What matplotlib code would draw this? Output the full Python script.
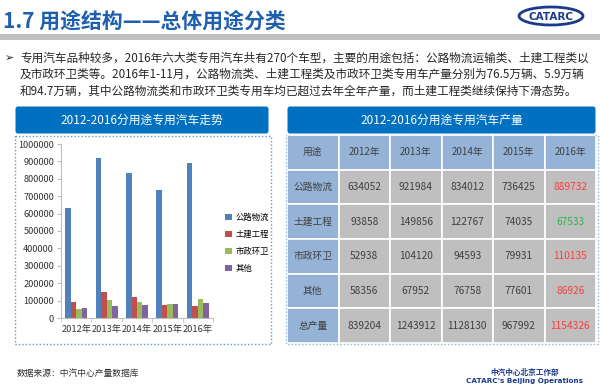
import matplotlib
matplotlib.use("Agg")
import matplotlib.pyplot as plt
from matplotlib.patches import Rectangle, FancyBboxPatch, Ellipse
import numpy as np

plt.rcParams['font.family'] = ['Noto Sans CJK SC', 'DejaVu Sans']

# ---- data ----
years = ['2012年', '2013年', '2014年', '2015年', '2016年']
categories = ['公路物流', '土建工程', '市政环卫', '其他']
logistics = [634052, 921984, 834012, 736425, 889732]
construction = [93858, 149856, 122767, 74035, 67533]
sanitation = [52938, 104120, 94593, 79931, 110135]
other = [58356, 67952, 76758, 77601, 86926]
total = [839204, 1243912, 1128130, 967992, 1154326]
row_labels = ['公路物流', '土建工程', '市政环卫', '其他', '总产量']
highlight_2016 = ['#FF3B3B', '#2DB34A', '#FF3B3B', '#FF3B3B', '#FF3B3B']
yticks = list(range(0, 1000001, 100000))

title = '1.7 用途结构——总体用途分类'
bullet_lines = [
    '专用汽车品种较多，2016年六大类专用汽车共有270个车型，主要的用途包括：公路物流运输类、土建工程类以',
    '及市政环卫类等。2016年1-11月，公路物流类、土建工程类及市政环卫类专用车产量分别为76.5万辆、5.9万辆',
    '和94.7万辆，其中公路物流类和市政环卫类专用车均已超过去年全年产量，而土建工程类继续保持下滑态势。',
]
chart_title = '2012-2016分用途专用汽车走势'
table_title = '2012-2016分用途专用汽车产量'
source = '数据来源：中汽中心产量数据库'

W, H = 600, 387
fig = plt.figure(figsize=(W / 100, H / 100), dpi=100)

# background overlay axes in pixel coordinates
bg = fig.add_axes([0, 0, 1, 1])
bg.set_xlim(0, W)
bg.set_ylim(H, 0)
bg.axis('off')

# title
bg.text(3, 21, title, fontsize=15, fontweight='bold', color='#1F5FAF',
        va='center', ha='left')
bg.add_patch(Rectangle((0, 34), W, 6, color='#BFBFBF', lw=0))

# logo
bg.add_patch(Ellipse((551, 16), 64, 18, fill=False, ec='#1B3A8C', lw=2))
bg.text(551, 16.5, 'CATARC', fontsize=7.5, fontweight='bold', color='#1B3A8C',
        ha='center', va='center', family=['DejaVu Sans'])

# bullet text
bg.text(5, 58, '➢', fontsize=8, color='#222222', va='center', ha='left',
        family=['DejaVu Sans'])
for i, line in enumerate(bullet_lines):
    bg.text(20, 58 + i * 16.5, line, fontsize=8.4, color='#262626',
            va='center', ha='left')

# header boxes
for (x0, x1, txt) in [(15, 269, chart_title), (287, 596, table_title)]:
    bg.add_patch(FancyBboxPatch((x0 + 3, 109), x1 - x0 - 6, 22,
                                boxstyle='round,pad=2.5', fc='#0070C0', ec='none'))
    bg.text((x0 + x1) / 2, 120.5, txt, fontsize=8.5, color='white',
            ha='center', va='center')

# dotted borders
bg.add_patch(Rectangle((15, 136), 256, 208, fill=False, ec='#5B9BD5',
                       lw=1.0, ls=(0, (1, 1.5))))
bg.add_patch(Rectangle((286, 135), 312, 209, fill=False, ec='#8DB4E2',
                       lw=1.0, ls=(0, (1, 1.5))))

# footer
bg.text(17, 373, source, fontsize=6.3, color='#333333', ha='left', va='center')
bg.text(525, 372, '中汽中心北京工作部', fontsize=5.5, color='#1B3A8C',
        ha='center', va='center', fontweight='bold')
bg.text(525, 381, "CATARC's Beijing Operations", fontsize=5.2, color='#1B3A8C',
        ha='center', va='center', fontweight='bold', family=['DejaVu Sans'])

# ---- bar chart ----
ax = fig.add_axes([61 / W, (H - 318) / H, 152 / W, 174 / H])
series = [logistics, construction, sanitation, other]
colors = ['#4F81BD', '#C0504D', '#9BBB59', '#8064A2']
x = np.arange(len(years))
bw = 0.18
handles = []
for k, (vals, c) in enumerate(zip(series, colors)):
    h = ax.bar(x + (k - 1.5) * bw, vals, width=bw, color=c, lw=0, label=categories[k])
    handles.append(h)
ax.set_xlim(-0.5, len(years) - 0.5)
ax.set_ylim(0, 1000000)
ax.set_yticks(yticks)
ax.set_yticklabels([str(v) for v in yticks], fontsize=6.6, color='#333333')
ax.set_xticks(x)
ax.set_xticklabels(years, fontsize=6.7, color='#333333')
ax.set_xticks(np.arange(-0.5, len(years), 1), minor=True)
ax.tick_params(axis='x', which='major', length=0, pad=5)
ax.tick_params(axis='x', which='minor', length=3, color='#BFBFBF')
ax.tick_params(axis='y', length=3, color='#BFBFBF', pad=2)
for s in ['top', 'right']:
    ax.spines[s].set_visible(False)
for s in ['left', 'bottom']:
    ax.spines[s].set_color('#BFBFBF')
    ax.spines[s].set_linewidth(0.8)
ax.patch.set_alpha(0)
fig.legend(handles=handles, labels=categories, loc='upper left',
           bbox_to_anchor=(222 / W, 1 - 210 / H), frameon=False,
           fontsize=6.0, handlelength=0.75, handleheight=0.75,
           handletextpad=0.45, labelspacing=0.95, borderaxespad=0)

# ---- table ----
tx = fig.add_axes([287 / W, (H - 343) / H, 309 / W, 208 / H])
tx.set_xlim(0, 6)
tx.set_ylim(6, 0)
tx.axis('off')
header = ['用途'] + years
table_values = [logistics, construction, sanitation, other, total]
blue_cell = '#95B3D7'
gray_cell = '#BFBFBF'
txt_color = '#404040'
for j, h in enumerate(header):
    tx.add_patch(Rectangle((j, 0), 1, 1, fc=blue_cell, ec='white', lw=1.2))
    tx.text(j + 0.5, 0.5, h, ha='center', va='center', fontsize=7, color=txt_color)
for i, (lab, vals) in enumerate(zip(row_labels, table_values)):
    r = i + 1
    tx.add_patch(Rectangle((0, r), 1, 1, fc=blue_cell, ec='white', lw=1.2))
    tx.text(0.5, r + 0.5, lab, ha='center', va='center', fontsize=7, color=txt_color)
    for j, v in enumerate(vals):
        c = j + 1
        tx.add_patch(Rectangle((c, r), 1, 1, fc=gray_cell, ec='white', lw=1.2))
        col = highlight_2016[i] if j == len(vals) - 1 else txt_color
        tx.text(c + 0.5, r + 0.5, str(v), ha='center', va='center',
                fontsize=7.3, color=col)

fig.savefig('out.png', dpi=100)
